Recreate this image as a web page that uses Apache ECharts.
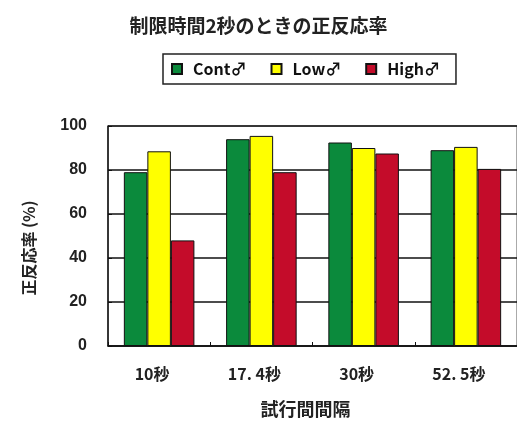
<!DOCTYPE html>
<html>
<head>
<meta charset="utf-8">
<script src="https://cdn.jsdelivr.net/npm/echarts@6/dist/echarts.min.js"></script>
<style>
  html, body { margin: 0; padding: 0; background: #fff; }
  #chart { width: 517px; height: 423px; }
</style>
</head>
<body>
<div id="chart"></div>
<script>
// Inter-trial intervals and correct-response rates (%) per group
const categories = ['10秒', '17. 4秒', '30秒', '52. 5秒'];
const contValues = [79, 94, 92.5, 89];
const lowValues = [88.5, 95.5, 90, 90.5];
const highValues = [48, 79, 87.5, 80.5];
const seriesNames = ['Cont♂', 'Low♂', 'High♂'];
const yTicks = [0, 20, 40, 60, 80, 100];

const CJK = '"Noto Sans CJK JP", "Liberation Sans", Arial, sans-serif';
const LATIN = '"Liberation Sans", Arial, "Noto Sans CJK JP", sans-serif';

const chart = echarts.init(document.getElementById('chart'), null, { renderer: 'canvas' });

const barStyle = (color) => ({
  color: color,
  borderColor: '#111',
  borderWidth: 1
});

chart.setOption({
  animation: false,
  backgroundColor: '#fff',
  title: {
    text: '制限時間2秒のときの正反応率',
    left: 'center',
    top: 11,
    textStyle: { fontFamily: CJK, fontSize: 19, fontWeight: 'bold', color: '#222' }
  },
  legend: {
    data: seriesNames,
    left: 163,
    top: 54,
    orient: 'horizontal',
    icon: 'rect',
    itemWidth: 10,
    itemHeight: 10,
    itemGap: 24,
    padding: [7, 16, 7, 8],
    borderColor: '#222',
    borderWidth: 1.5,
    backgroundColor: '#fff',
    textStyle: { fontFamily: CJK, fontSize: 16, fontWeight: 'bold', color: '#111', padding: [0, 0, 0, 6] }
  },
  grid: {
    left: 108,
    top: 126,
    width: 413,
    bottom: 76,
    show: true,
    borderColor: '#555',
    borderWidth: 1
  },
  xAxis: {
    type: 'category',
    data: categories,
    name: '試行間間隔',
    nameLocation: 'middle',
    nameGap: 54,
    nameTextStyle: { fontFamily: CJK, fontSize: 18, fontWeight: 'bold', color: '#222', padding: [0, 14, 0, 0] },
    axisLine: { lineStyle: { color: '#111', width: 1.5 } },
    axisTick: { show: true, inside: true, length: 4, lineStyle: { color: '#111' } },
    axisLabel: {
      fontFamily: CJK, fontSize: 16, fontWeight: 'bold', color: '#222',
      margin: 20, padding: [0, 14, 0, 0]
    }
  },
  yAxis: {
    type: 'value',
    min: yTicks[0],
    max: yTicks[yTicks.length - 1],
    interval: yTicks[1] - yTicks[0],
    name: '正反応率 (%)',
    nameLocation: 'middle',
    nameGap: 71,
    nameRotate: 90,
    nameTextStyle: { fontFamily: CJK, fontSize: 16, fontWeight: 'bold', color: '#222', padding: [0, 24, 0, 0] },
    axisLine: { show: true, lineStyle: { color: '#111', width: 1.5 } },
    axisTick: { show: true, inside: true, length: 4, lineStyle: { color: '#111' } },
    axisLabel: { fontFamily: LATIN, fontSize: 16, fontWeight: 'bold', color: '#222', margin: 21 },
    splitLine: { show: true, lineStyle: { color: '#111', width: 1.5 } }
  },
  series: [
    { name: seriesNames[0], type: 'bar', data: contValues, barGap: '0%', barCategoryGap: '31%', itemStyle: barStyle('#0b8a3c') },
    { name: seriesNames[1], type: 'bar', data: lowValues, barGap: '0%', barCategoryGap: '31%', itemStyle: barStyle('#ffff00') },
    { name: seriesNames[2], type: 'bar', data: highValues, barGap: '0%', barCategoryGap: '31%', itemStyle: barStyle('#c40c2a') }
  ]
});
</script>
</body>
</html>
